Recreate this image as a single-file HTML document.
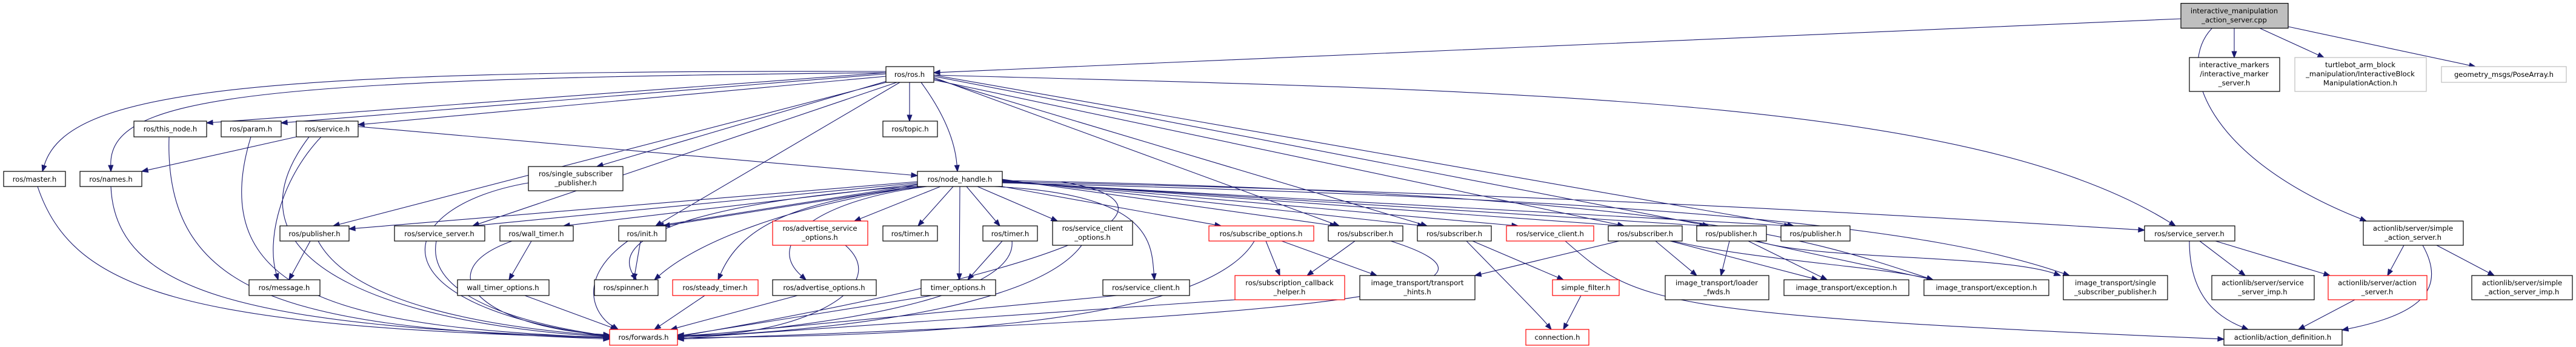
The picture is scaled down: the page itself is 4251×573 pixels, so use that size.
<!DOCTYPE html>
<html><head><meta charset="utf-8"><style>
html,body{margin:0;padding:0;background:#fff;}
svg{display:block;}
text{font-family:"DejaVu Sans","Liberation Sans",sans-serif;font-size:11.6px;fill:#000;text-anchor:middle;}
rect{fill:#fff;stroke:#000;stroke-width:1.2;}
rect.r{stroke:#ff0000;}
rect.g{stroke:#bfbfbf;}
rect.c{fill:#bfbfbf;stroke:#000;}
</style></head><body>
<svg id="s" width="4251" height="573" viewBox="0 0 4251 573" xmlns="http://www.w3.org/2000/svg">
<g id="edges" fill="none" stroke="#191970" stroke-width="1.1"></g>
<g id="nodes">
<rect class="c" x="3599" y="5.5" width="177" height="41"/><text x="3687" y="22">interactive_manipulation</text><text x="3687" y="37">_action_server.cpp</text>
<rect x="3613" y="95" width="149" height="56"/><text x="3687" y="111">interactive_markers</text><text x="3687" y="126">/interactive_marker</text><text x="3687" y="141">_server.h</text>
<rect class="g" x="3787" y="95" width="217" height="56"/><text x="3895" y="111">turtlebot_arm_block</text><text x="3895" y="126">_manipulation/InteractiveBlock</text><text x="3895" y="141">ManipulationAction.h</text>
<rect class="g" x="4029" y="110" width="206" height="26"/><text x="4132" y="127">geometry_msgs/PoseArray.h</text>
<rect x="1462" y="110" width="79" height="26"/><text x="1501" y="127">ros/ros.h</text>
<rect x="221" y="200" width="120" height="26"/><text x="281" y="217">ros/this_node.h</text>
<rect x="365" y="200" width="99" height="26"/><text x="414" y="217">ros/param.h</text>
<rect x="489" y="200" width="102" height="26"/><text x="540" y="217">ros/service.h</text>
<rect x="1457" y="200" width="90" height="26"/><text x="1502" y="217">ros/topic.h</text>
<rect x="6" y="283" width="102" height="25"/><text x="57" y="300">ros/master.h</text>
<rect x="132" y="283" width="102" height="25"/><text x="183" y="300">ros/names.h</text>
<rect x="872" y="275" width="156" height="40"/><text x="950" y="291">ros/single_subscriber</text><text x="950" y="306">_publisher.h</text>
<rect x="1514" y="283" width="140" height="25"/><text x="1584" y="300">ros/node_handle.h</text>
<rect x="462" y="373" width="114" height="25"/><text x="519" y="390">ros/publisher.h</text>
<rect x="651" y="373" width="149" height="25"/><text x="725" y="390">ros/service_server.h</text>
<rect x="825" y="373" width="121" height="25"/><text x="885" y="390">ros/wall_timer.h</text>
<rect x="1021" y="373" width="78" height="25"/><text x="1060" y="390">ros/init.h</text>
<rect class="r" x="1275" y="365" width="157" height="40"/><text x="1353" y="381">ros/advertise_service</text><text x="1353" y="396">_options.h</text>
<rect x="1457" y="373" width="90" height="25"/><text x="1502" y="390">ros/timer.h</text>
<rect x="1622" y="373" width="90" height="25"/><text x="1667" y="390">ros/timer.h</text>
<rect x="1737" y="365" width="132" height="40"/><text x="1803" y="381">ros/service_client</text><text x="1803" y="396">_options.h</text>
<rect class="r" x="1995" y="373" width="173" height="25"/><text x="2081" y="390">ros/subscribe_options.h</text>
<rect x="2192" y="373" width="123" height="25"/><text x="2253" y="390">ros/subscriber.h</text>
<rect x="2339" y="373" width="122" height="25"/><text x="2400" y="390">ros/subscriber.h</text>
<rect class="r" x="2486" y="373" width="144" height="25"/><text x="2558" y="390">ros/service_client.h</text>
<rect x="2654" y="373" width="122" height="25"/><text x="2715" y="390">ros/subscriber.h</text>
<rect x="2800" y="373" width="115" height="25"/><text x="2857" y="390">ros/publisher.h</text>
<rect x="2939" y="373" width="114" height="25"/><text x="2996" y="390">ros/publisher.h</text>
<rect x="3539" y="373" width="149" height="25"/><text x="3613" y="390">ros/service_server.h</text>
<rect x="3900" y="365" width="165" height="40"/><text x="3982" y="381">actionlib/server/simple</text><text x="3982" y="396">_action_server.h</text>
<rect x="411" y="462" width="117" height="26"/><text x="469" y="479">ros/message.h</text>
<rect x="755" y="462" width="151" height="26"/><text x="830" y="479">wall_timer_options.h</text>
<rect x="981" y="462" width="105" height="26"/><text x="1033" y="479">ros/spinner.h</text>
<rect class="r" x="1110" y="462" width="141" height="26"/><text x="1180" y="479">ros/steady_timer.h</text>
<rect x="1275" y="462" width="171" height="26"/><text x="1360" y="479">ros/advertise_options.h</text>
<rect x="1520" y="462" width="123" height="26"/><text x="1581" y="479">timer_options.h</text>
<rect x="1820" y="462" width="143" height="26"/><text x="1891" y="479">ros/service_client.h</text>
<rect class="r" x="2038" y="455" width="181" height="40"/><text x="2128" y="471">ros/subscription_callback</text><text x="2128" y="486">_helper.h</text>
<rect x="2244" y="455" width="190" height="40"/><text x="2339" y="471">image_transport/transport</text><text x="2339" y="486">_hints.h</text>
<rect class="r" x="2562" y="462" width="110" height="26"/><text x="2617" y="479">simple_filter.h</text>
<rect x="2748" y="455" width="171" height="40"/><text x="2833" y="471">image_transport/loader</text><text x="2833" y="486">_fwds.h</text>
<rect x="2944" y="462" width="206" height="26"/><text x="3047" y="479">image_transport/exception.h</text>
<rect x="3175" y="462" width="206" height="26"/><text x="3278" y="479">image_transport/exception.h</text>
<rect x="3405" y="455" width="172" height="40"/><text x="3491" y="471">image_transport/single</text><text x="3491" y="486">_subscriber_publisher.h</text>
<rect x="3650" y="455" width="169" height="40"/><text x="3734" y="471">actionlib/server/service</text><text x="3734" y="486">_server_imp.h</text>
<rect class="r" x="3842" y="455" width="163" height="40"/><text x="3923" y="471">actionlib/server/action</text><text x="3923" y="486">_server.h</text>
<rect x="4079" y="455" width="166" height="40"/><text x="4162" y="471">actionlib/server/simple</text><text x="4162" y="486">_action_server_imp.h</text>
<rect class="r" x="1006" y="544" width="112" height="26"/><text x="1062" y="561">ros/forwards.h</text>
<rect class="r" x="2518" y="544" width="104" height="26"/><text x="2570" y="561">connection.h</text>
<rect x="3670" y="544" width="195" height="26"/><text x="3767" y="561">actionlib/action_definition.h</text>
</g>
</svg>
<script>
(function(){
var E=[
// cpp
[3599,31,1541,120,'s'],[3687,47,3687,95,'s'],[3730,47,3835,95,'s'],[3776,44,4085,110,'s'],
[3650,47,3905,365,'c',3590,110,3640,260],
// ros.h
[1462,120,341,203,'s'],[1462,122,464,203,'s'],[1462,126,591,206,'s'],
[1462,118,70,283,'c',400,115,110,150],[1462,120,183,283,'c',400,130,180,160],
[1470,132,985,275,'s'],[1470,134,550,373,'s'],[1480,136,780,373,'s'],[1485,136,1082,373,'s'],
[1501,136,1501,200,'s'],[1520,136,1580,283,'c',1545,170,1575,220],
[1541,128,2210,373,'s'],[1541,130,2355,373,'s'],[1541,132,2680,373,'s'],[1541,126,2820,373,'s'],[1541,124,2960,373,'s'],
[1541,124,3590,373,'c',2500,150,3250,160],
// node_handle
[1514,300,576,378,'s'],[1514,302,780,373,'s'],[1514,304,930,373,'s'],[1514,305,1085,373,'s'],[1520,306,1095,373,'s'],
[1516,307,1050,462,'c',1200,330,1000,380],[1518,308,1080,462,'c',1300,340,1150,400],
[1530,308,1185,462,'c',1300,330,1220,380],[1530,308,1330,462,'c',1350,330,1260,400],
[1552,308,1410,365,'s'],[1573,308,1515,373,'s'],[1584,308,1583,462,'s'],[1595,308,1650,373,'s'],[1613,308,1745,365,'s'],
[1640,308,1905,462,'c',1900,320,1900,400],[1654,308,2015,373,'s'],
[1654,296,2205,373,'s'],[1654,297,2350,373,'s'],[1654,298,2505,373,'s'],[1654,299,2680,373,'s'],[1654,300,2815,373,'s'],[1654,301,2955,373,'s'],
[1654,298,3190,462,'c',2800,320,3000,400],[1654,302,3415,455,'c',2800,330,3200,380],[1654,300,3539,380,'c',2600,320,3200,360],
// lower
[279,226,1006,560,'c',270,500,500,540],[414,226,1006,558,'c',330,500,600,540],[510,226,1006,556,'c',340,450,700,540],
[489,226,234,283,'s'],[530,226,459,462,'c',460,300,440,400],[591,209,1514,290,'s'],
[62,308,1006,558,'c',120,480,300,540],[183,308,1006,557,'c',190,480,400,540],
[872,302,1006,556,'c',650,340,600,500],[512,398,477,462,'s'],[525,398,1006,555,'c',580,500,800,540],
[720,398,1006,555,'c',700,500,900,540],[877,398,840,462,'s'],[845,398,1006,553,'c',700,450,800,540],
[1036,398,1020,544,'c',950,460,980,520],[1057,398,1046,462,'s'],
[866,488,1018,544,'s'],[1163,488,1080,544,'s'],[1316,488,1107,544,'s'],
[1395,405,1118,553,'c',1480,480,1300,560],[1538,488,1118,555,'s'],[1654,398,1597,462,'s'],
[1670,398,1118,555,'c',1680,500,1300,545],[1785,405,1118,556,'c',1700,520,1300,550],
[1843,488,1118,557,'s'],[1750,300,1118,556,'c',1940,330,1900,420],
[2070,398,1118,558,'c',1980,550,1400,555],[2089,398,2112,455,'s'],[2115,398,2272,455,'s'],
[2038,495,1118,559,'s'],[2236,398,2157,455,'s'],[2295,398,1118,560,'c',2520,470,2300,520],
[2430,398,2580,462,'s'],[2420,398,2560,544,'c',2500,480,2540,520],[2609,488,2580,544,'s'],
[2583,398,3670,560,'c',2700,500,2720,520],
[2672,398,2434,455,'s'],[2732,398,2800,455,'s'],[2756,398,3000,462,'s'],[2760,398,3190,462,'c',2900,430,3100,440],
[2854,398,2840,455,'s'],[2885,398,3015,462,'s'],[2895,398,3190,462,'s'],[2900,398,3400,455,'c',3000,430,3300,420],
[3613,398,3710,544,'c',3613,480,3650,520],[3630,398,3705,455,'s'],[3656,398,3845,455,'s'],
[3967,405,3940,455,'s'],[3998,405,3865,545,'c',4040,480,3990,520],[4021,405,4116,455,'s'],
[3886,495,3793,544,'s']
];
var g=document.getElementById('edges'),ns='http://www.w3.org/2000/svg',d='',a='';
E.forEach(function(e){
 var x1=e[0],y1=e[1],x2=e[2],y2=e[3],c1x,c1y,c2x,c2y;
 if(e[4]=='c'){c1x=e[5];c1y=e[6];c2x=e[7];c2y=e[8];}else{c1x=x1;c1y=y1;c2x=x1;c2y=y1;}
 var dx=x2-c2x,dy=y2-c2y,L=Math.sqrt(dx*dx+dy*dy)||1;dx/=L;dy/=L;
 var bx=x2-dx*10,by=y2-dy*10;
 if(e[4]=='c') d+='M'+x1+' '+y1+'C'+c1x+' '+c1y+' '+c2x+' '+c2y+' '+bx+' '+by;
 else d+='M'+x1+' '+y1+'L'+bx+' '+by;
 var px=-dy*3.8,py=dx*3.8;
 a+='M'+x2+' '+y2+'L'+(bx+px)+' '+(by+py)+'L'+(bx-px)+' '+(by-py)+'Z';
});
var p=document.createElementNS(ns,'path');p.setAttribute('d',d);g.appendChild(p);
var q=document.createElementNS(ns,'path');q.setAttribute('d',a);q.setAttribute('fill','#191970');g.appendChild(q);
})();
</script>
</body></html>
